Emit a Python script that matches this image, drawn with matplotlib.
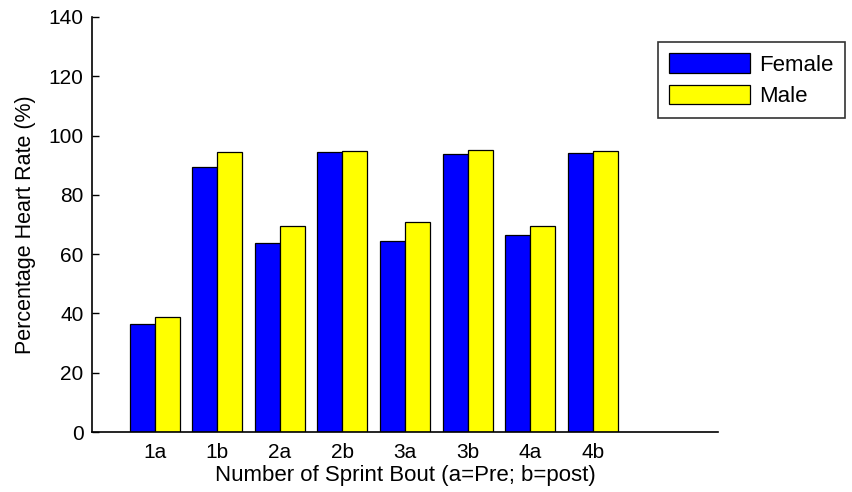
import matplotlib
matplotlib.use("Agg")
import matplotlib.pyplot as plt
import numpy as np

categories = ["1a", "1b", "2a", "2b", "3a", "3b", "4a", "4b"]
female = [36.3, 89.5, 63.7, 94.4, 64.3, 93.7, 66.4, 94.1]
male = [38.9, 94.4, 69.5, 94.9, 70.9, 95.1, 69.5, 94.9]
yticks = [0, 20, 40, 60, 80, 100, 120, 140]

plt.rcParams['font.family'] = ['Liberation Sans', 'DejaVu Sans']
FS = 15

fig = plt.figure(figsize=(8.52, 4.92), dpi=100)
ax = fig.add_axes([92/852, 1 - 432/492, (718-92)/852, (432-17)/492])

x = np.arange(1, len(categories) + 1)
w = 0.4
ax.bar(x - w/2, female, w, color="#0000ff", edgecolor="black", linewidth=0.9, label="Female")
ax.bar(x + w/2, male, w, color="#ffff00", edgecolor="black", linewidth=0.9, label="Male")

ax.set_xlim(0, 10)
ax.set_ylim(0, 140)
ax.set_xticks(x)
ax.set_xticklabels(categories)
ax.set_yticks(yticks)
ax.tick_params(axis='x', length=0, pad=8, labelsize=FS)
ax.tick_params(axis='y', direction='in', length=5, width=1, pad=6, labelsize=FS)
for s in ['top', 'right']:
    ax.spines[s].set_visible(False)
for s in ['left', 'bottom']:
    ax.spines[s].set_linewidth(1.2)

ax.set_xlabel("Number of Sprint Bout (a=Pre; b=post)", fontsize=16, labelpad=2)
ax.set_ylabel("Percentage Heart Rate (%)", fontsize=15.5, labelpad=9)

leg = ax.legend(loc='upper left', bbox_to_anchor=(658/852, 1 - 42/492), bbox_transform=fig.transFigure,
                frameon=True, fancybox=False, fontsize=16, handlelength=3.65, handleheight=1.0,
                handletextpad=0.4, labelspacing=0.4, borderpad=0.5, borderaxespad=0)
leg.get_frame().set_edgecolor("black")
leg.get_frame().set_linewidth(1.2)

fig.savefig("out.png", dpi=100)
